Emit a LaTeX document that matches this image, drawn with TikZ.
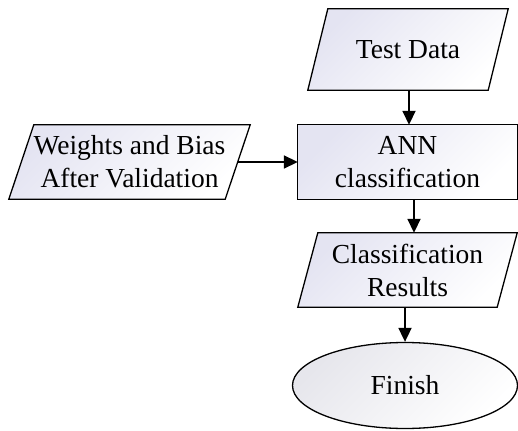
\documentclass[tikz,border=0pt]{standalone}
\usepackage{fontspec}
\setmainfont{Liberation Serif}
\usetikzlibrary{arrows.meta,shapes.geometric,backgrounds,calc}
\definecolor{lav}{RGB}{228,228,242}
\definecolor{ell}{RGB}{230,230,236}
\begin{document}
\begin{tikzpicture}[x=1pt,y=-1pt,
  box/.style={inner sep=0pt,minimum width=#1,align=center,minimum height=74pt,
    font=\fontsize{27.5pt}{33pt}\selectfont},
  shapefill/.style={draw=black,line width=1.3pt,top color=lav,bottom color=white,shading angle=45},
  arr/.style={line width=1.8pt,-{Triangle[length=14pt,width=13pt]}}]
\useasboundingbox (0,0) rectangle (518,430);
\node[box=200pt,minimum height=81pt] (td) at (408,49.5) {Test Data};
\node[box=219pt] (ann) at (407.5,162) {ANN\\classification};
\node[box=241pt] (wb) at (129.5,162) {Weights and Bias\\After Validation};
\node[box=219pt] (cls) at (407.5,270) {Classification\\Results};
\node[ellipse,inner sep=0pt,minimum width=225pt,minimum height=86pt,
  draw=black,line width=1.3pt,top color=ell,bottom color=white,shading angle=45,
  font=\fontsize{27.5pt}{33pt}\selectfont] (fin) at (405,385.5) {Finish};
\begin{scope}[on background layer]
\path[shapefill] ([xshift=20pt]td.north west) -- (td.north east) -- ([xshift=-20pt]td.south east) -- (td.south west) -- cycle;
\path[shapefill] (ann.north west) rectangle (ann.south east);
\path[shapefill] ([xshift=25pt]wb.north west) -- (wb.north east) -- ([xshift=-25pt]wb.south east) -- (wb.south west) -- cycle;
\path[shapefill] ([xshift=20pt]cls.north west) -- (cls.north east) -- ([xshift=-20pt]cls.south east) -- (cls.south west) -- cycle;
\end{scope}
\draw[arr] ([xshift=1pt]td.south) -- ([xshift=1pt]td.south |- ann.north);
\draw[arr] ([xshift=-12.5pt]wb.east) -- (ann.west);
\draw[arr] ([xshift=6.5pt]ann.south) -- ([xshift=6.5pt]cls.north);
\draw[arr] (fin.north |- cls.south) -- (fin.north);
\end{tikzpicture}
\end{document}
